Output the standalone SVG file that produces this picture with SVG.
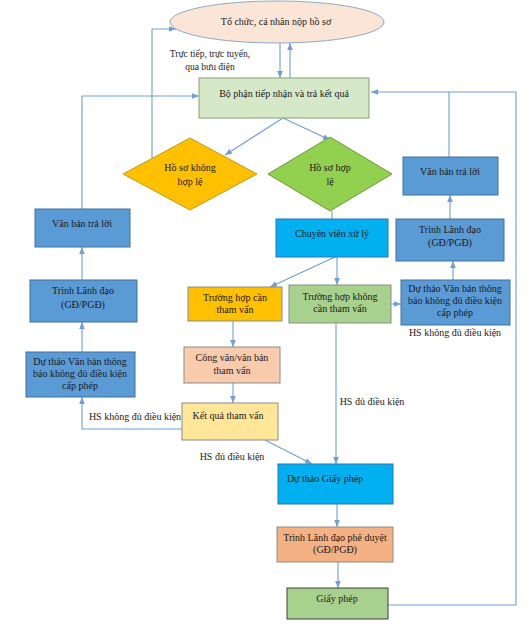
<svg xmlns="http://www.w3.org/2000/svg" width="529" height="627" viewBox="0 0 529 627">
<defs>
<style>
text{font-family:"Liberation Serif","Times New Roman",serif;font-size:10px;fill:#1a1a1a;text-anchor:middle}
.lbl{font-size:9.5px}
.c{fill:none;stroke:#6f9fd6;stroke-width:1.1}
.blue{fill:#5b9bd5;stroke:#41719c;stroke-width:1}
.cyan{fill:#00b0f0;stroke:#2e75b6;stroke-width:1}
.gray{stroke:#8c8c8c;stroke-width:1}
</style>
<marker id="a" viewBox="0 0 10 10" refX="10" refY="5" markerWidth="7" markerHeight="7" markerUnits="userSpaceOnUse" orient="auto"><path d="M0,1 L10,5 L0,9 z" fill="#6f9fd6"/></marker>
</defs>
<rect width="529" height="627" fill="#fff"/>

<g id="connectors">
<path class="c" d="M280,43 L280,78" marker-end="url(#a)"/>
<path class="c" d="M290,78 L290,43" marker-end="url(#a)"/>
<path class="c" d="M283,118 L225,155" marker-end="url(#a)"/>
<path class="c" d="M283,118 L330,140" marker-end="url(#a)"/>
<path class="c" d="M152,158 L152,29 L176,29" marker-end="url(#a)"/>
<path class="c" d="M82,209 L82,96 L199,96" marker-end="url(#a)"/>
<path class="c" d="M388,605 L516,605 L516,92 L371,92" marker-end="url(#a)"/>
<path class="c" d="M449,157 L449,92"/>
<path class="c" d="M450,219 L450,195" marker-end="url(#a)"/>
<path class="c" d="M453,280 L453,261" marker-end="url(#a)"/>
<path class="c" d="M391,304 L401,304" marker-end="url(#a)"/>
<path class="c" d="M332,211 L332,219"/>
<path class="c" d="M335,257 L270,287" marker-end="url(#a)"/>
<path class="c" d="M337,257 L337,285" marker-end="url(#a)"/>
<path class="c" d="M233,321 L233,347" marker-end="url(#a)"/>
<path class="c" d="M233,383 L233,403" marker-end="url(#a)"/>
<path class="c" d="M182,429 L82,429 L82,397" marker-end="url(#a)"/>
<path class="c" d="M82,280 L82,247" marker-end="url(#a)"/>
<path class="c" d="M82,352 L82,322" marker-end="url(#a)"/>
<path class="c" d="M336,323 L336,464" marker-end="url(#a)"/>
<path class="c" d="M265,440 L312,464" marker-end="url(#a)"/>
<path class="c" d="M337,504 L337,527" marker-end="url(#a)"/>
<path class="c" d="M338,562 L338,588" marker-end="url(#a)"/>
<text class="lbl" x="210" y="57">Trực tiếp, trực tuyến,</text>
<text class="lbl" x="210" y="70">qua bưu điện</text>
<text x="455" y="336">HS không đủ điều kiện</text>
<text x="135" y="420">HS không đủ điều kiện</text>
<text x="372" y="405">HS đủ điều kiện</text>
<text x="232" y="460">HS đủ điều kiện</text>
</g>

<g id="n-tochuc">
<ellipse cx="277" cy="22" rx="107" ry="21" fill="#fbe5d6" stroke="#8ea9c8" stroke-width="1"/>
<text x="276" y="25">Tổ chức, cá nhân nộp hồ sơ</text>
</g>
<g id="n-bophan">
<rect x="199" y="78" width="170" height="40" fill="#d5e8c8" stroke="#8aa070" stroke-width="1"/>
<text x="284" y="97">Bộ phận tiếp nhận và trả kết quả</text>
</g>
<g id="n-khonghople">
<polygon points="123,174 190,138 257,174 190,210" fill="#ffc000" stroke="#c09a20" stroke-width="1"/>
<text x="190" y="171">Hồ sơ không</text>
<text x="190" y="185">hợp lệ</text>
</g>
<g id="n-hople">
<polygon points="268,174 330,137 392,174 330,211" fill="#92d050" stroke="#6e9a3a" stroke-width="1"/>
<text x="330" y="171">Hồ sơ hợp</text>
<text x="330" y="185">lệ</text>
</g>
<g id="n-vbtl-r">
<rect x="403" y="157" width="95" height="38" class="blue"/>
<text x="450" y="175">Văn bản trả lời</text>
</g>
<g id="n-trinh-r">
<rect x="396" y="219" width="108" height="42" class="blue"/>
<text x="450" y="233">Trình Lãnh đạo</text>
<text x="450" y="246">(GĐ/PGĐ)</text>
</g>
<g id="n-duthao-r">
<rect x="401" y="280" width="109" height="45" class="blue"/>
<text x="455" y="292">Dự thảo Văn bản thông</text>
<text x="455" y="304">báo không đủ điều kiện</text>
<text x="455" y="316">cấp phép</text>
</g>
<g id="n-vbtl-l">
<rect x="35" y="209" width="95" height="38" class="blue"/>
<text x="82" y="227">Văn bản trả lời</text>
</g>
<g id="n-trinh-l">
<rect x="30" y="280" width="107" height="42" class="blue"/>
<text x="83" y="294">Trình Lãnh đạo</text>
<text x="83" y="308">(GĐ/PGĐ)</text>
</g>
<g id="n-duthao-l">
<rect x="26" y="352" width="109" height="45" class="blue"/>
<text x="80" y="365">Dự thảo Văn bản thông</text>
<text x="80" y="377">báo không đủ điều kiện</text>
<text x="80" y="389">cấp phép</text>
</g>
<g id="n-chuyenvien">
<rect x="276" y="219" width="112" height="38" class="cyan"/>
<text x="332" y="237">Chuyên viên xử lý</text>
</g>
<g id="n-can">
<rect x="188" y="287" width="94" height="34" fill="#ffc000" stroke="#8c8c8c" stroke-width="1"/>
<text x="235" y="301">Trường hợp cần</text>
<text x="235" y="313">tham vấn</text>
</g>
<g id="n-khongcan">
<rect x="289" y="285" width="102" height="38" fill="#a9d18e" stroke="#8c8c8c" stroke-width="1"/>
<text x="340" y="300">Trường hợp không</text>
<text x="340" y="312">cần tham vấn</text>
</g>
<g id="n-congvan">
<rect x="184" y="347" width="96" height="36" fill="#f8cbad" stroke="#8c8c8c" stroke-width="1"/>
<text x="232" y="361">Công văn/văn bản</text>
<text x="232" y="374">tham vấn</text>
</g>
<g id="n-ketqua">
<rect x="182" y="403" width="96" height="37" fill="#ffe699" stroke="#8c8c8c" stroke-width="1"/>
<text x="228" y="419">Kết quả tham vấn</text>
</g>
<g id="n-duthaogp">
<rect x="278" y="464" width="115" height="40" class="cyan"/>
<text x="325" y="482">Dự thảo Giấy phép</text>
</g>
<g id="n-pheduyet">
<rect x="277" y="527" width="116" height="35" fill="#f4b183" stroke="#8c8c8c" stroke-width="1"/>
<text x="335" y="541">Trình Lãnh đạo phê duyệt</text>
<text x="335" y="553">(GĐ/PGĐ)</text>
</g>
<g id="n-giayphep">
<rect x="287" y="588" width="101" height="31" fill="#a9d18e" stroke="#404040" stroke-width="1"/>
<text x="337" y="602">Giấy phép</text>
</g>
</svg>
